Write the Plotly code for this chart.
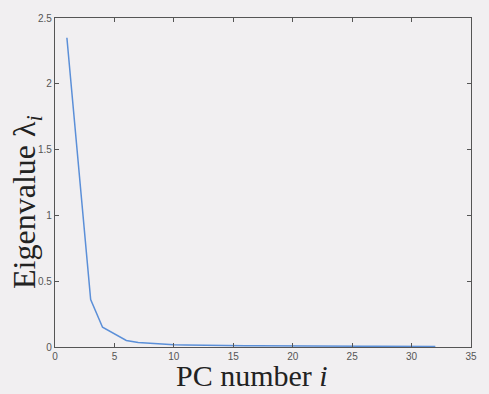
import plotly.graph_objects as go

pc_number = list(range(1, 33))
eigenvalues = [2.35, 1.36, 0.36, 0.15, 0.10, 0.05, 0.035, 0.028, 0.022, 0.018,
               0.016, 0.014, 0.013, 0.012, 0.011, 0.010, 0.010, 0.009, 0.009, 0.008,
               0.008, 0.007, 0.007, 0.007, 0.006, 0.006, 0.006, 0.005, 0.005, 0.005,
               0.004, 0.004]
x_ticks = [0, 5, 10, 15, 20, 25, 30, 35]
y_ticks = [0, 0.5, 1, 1.5, 2, 2.5]
y_tick_text = ["0", "0.5", "1", "1.5", "2", "2.5"]

bg = "#f1eff1"
fig = go.Figure()
fig.add_trace(go.Scatter(x=pc_number, y=eigenvalues, mode="lines",
                         line=dict(color="#5b8fd8", width=1.5), showlegend=False))

axis_common = dict(showgrid=False, zeroline=False, showline=True, linecolor="#555",
                   linewidth=1.2, mirror="ticks", ticks="inside", ticklen=4,
                   tickcolor="#555", tickfont=dict(family="Liberation Sans", size=10, color="#555"))
fig.update_xaxes(range=[0, 35], tickvals=x_ticks, **axis_common)
fig.update_yaxes(range=[0, 2.5], tickvals=y_ticks, ticktext=y_tick_text, **axis_common)

fig.add_annotation(text="PC number <i>i</i>", xref="paper", yref="paper", x=0.473, y=-0.139,
                   xanchor="center", yanchor="bottom", showarrow=False, borderpad=0,
                   font=dict(family="Liberation Serif", size=30, color="#222"))
fig.add_annotation(text="Eigenvalue λ<sub><i>i</i></sub>", xref="paper", yref="paper",
                   x=-0.068, y=0.44, xanchor="center", yanchor="middle", textangle=-90,
                   showarrow=False, font=dict(family="Liberation Serif", size=32, color="#222"))

fig.update_layout(width=489, height=394, margin=dict(l=55, r=16, t=12, b=47),
                  paper_bgcolor=bg, plot_bgcolor=bg)
fig.write_html("out.html", config={"displayModeBar": False},
               post_script="document.body.style.margin='0';document.body.style.overflow='hidden';document.body.style.background='%s';" % bg)
